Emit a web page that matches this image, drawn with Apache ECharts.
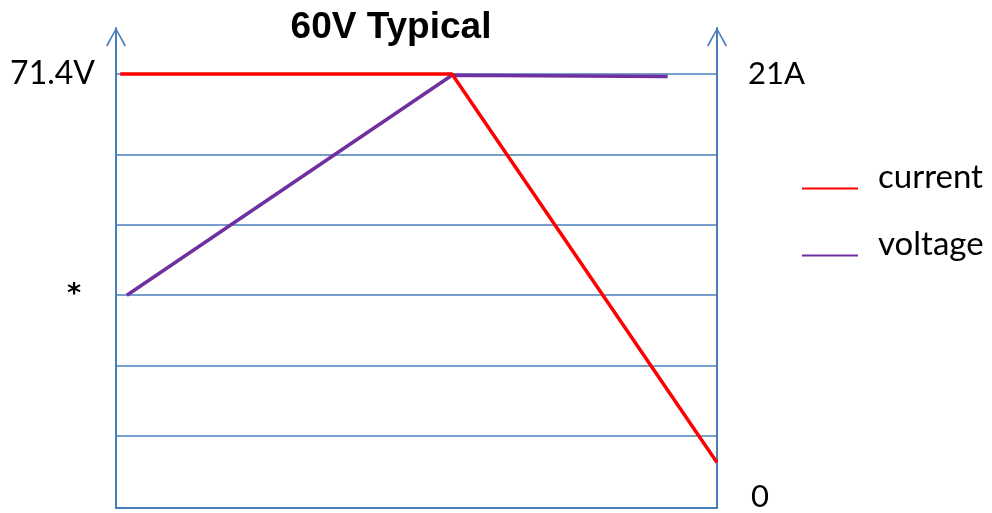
<!DOCTYPE html>
<html>
<head>
<meta charset="utf-8">
<script src="https://cdn.jsdelivr.net/npm/echarts@6/dist/echarts.min.js"></script>
<style>
  html, body { margin: 0; padding: 0; background: #fff; }
  #main { width: 992px; height: 513px; }
</style>
</head>
<body>
<div id="main"></div>
<script>
  // x in % of the time span, y in volts / amps
  const currentData = [[0.7, 21], [55.9, 21], [100, 2.2]];
  const voltageData = [[1.8, 35.0], [55.9, 71.2], [91.8, 71.0]];
  // horizontal grid levels (volts)
  const gridVolts = [11.85, 23.36, 35.04, 46.56, 58.08, 71.4];
  const voltLabels = [{ value: 35.04, text: '*' }, { value: 71.4, text: '71.4V' }];
  const ampLabels = [{ value: 0, text: '0' }, { value: 21, text: '21A' }];

  const blue = '#4a7ebb';
  const font = 'Lato, "Open Sans", sans-serif';
  // open chevron for the axis ends
  const arrow = 'path://M0,18 L10,0 L20,18 L18.5,18.8 L10,2.8 L1.5,18.8 Z';

  const myChart = echarts.init(document.getElementById('main'));
  const option = {
    backgroundColor: '#fff',
    animation: false,
    title: {
      text: '60V Typical',
      left: 386,
      top: 4,
      textAlign: 'center',
      textStyle: { fontFamily: '"Liberation Sans", Arial, sans-serif', fontWeight: 'bold', fontSize: 37, color: '#000' }
    },
    legend: {
      orient: 'vertical',
      left: 797,
      top: 156,
      itemWidth: 56,
      itemHeight: 24,
      itemGap: 34,
      data: [
        { name: 'current', icon: 'path://M0,0 M0,22 L56,22 L56,24 L0,24 Z' },
        { name: 'voltage', icon: 'path://M0,0 M0,22 L56,22 L56,24 L0,24 Z' }
      ],
      textStyle: { fontFamily: font, fontSize: 33, color: '#000', padding: [0, 0, 0, 15], lineHeight: 32 }
    },
    grid: { left: 116, right: 275, top: 28, bottom: 5 },
    xAxis: {
      type: 'value',
      min: 0,
      max: 100,
      axisLine: { show: true, lineStyle: { color: blue, width: 2 } },
      axisTick: { show: false },
      axisLabel: { show: false },
      splitLine: { show: false }
    },
    yAxis: [
      {
        type: 'value',
        position: 'left',
        min: 0,
        max: 78.97,
        axisLine: {
          show: true,
          symbol: ['none', arrow],
          symbolSize: [20, 19],
          symbolOffset: [0, -9],
          lineStyle: { color: blue, width: 2 }
        },
        axisTick: { show: false },
        splitLine: { show: false },
        axisLabel: {
          customValues: voltLabels.map(d => d.value),
          margin: 21,
          fontFamily: font,
          fontSize: 32,
          color: '#000',
          formatter: function (v) {
            const d = voltLabels.find(l => Math.abs(l.value - v) < 0.01);
            if (!d) return '';
            return d.text === '*' ? '{s|*}' : d.text;
          },
          rich: { s: { fontFamily: '"DejaVu Sans", sans-serif', fontWeight: 'bold', fontSize: 27, color: '#000', padding: [0, 14, 0, 0] } }
        }
      },
      {
        type: 'value',
        position: 'right',
        min: 0,
        max: 23.23,
        axisLine: {
          show: true,
          symbol: ['none', arrow],
          symbolSize: [20, 19],
          symbolOffset: [0, -9],
          lineStyle: { color: blue, width: 2 }
        },
        axisTick: { show: false },
        splitLine: { show: false },
        axisLabel: {
          customValues: ampLabels.map(d => d.value),
          margin: 31,
          fontFamily: font,
          fontSize: 31,
          color: '#000',
          formatter: function (v) {
            const d = ampLabels.find(l => Math.abs(l.value - v) < 0.01);
            if (!d) return '';
            return d.value === 0 ? '{z|0}' : d.text;
          },
          rich: { z: { fontFamily: font, fontSize: 31, color: '#000', padding: [0, 0, 22, 3] } }
        }
      }
    ],
    series: [
      {
        name: 'voltage',
        type: 'line',
        yAxisIndex: 0,
        data: voltageData,
        symbol: 'none',
        z: 3,
        color: '#7030a0',
        lineStyle: { color: '#7030a0', width: 3.5 },
        markLine: {
          silent: true,
          symbol: 'none',
          label: { show: false },
          lineStyle: { color: blue, width: 1.5, type: 'solid' },
          z: 1,
          data: gridVolts.map(v => ({ yAxis: v }))
        }
      },
      {
        name: 'current',
        type: 'line',
        yAxisIndex: 1,
        data: currentData,
        symbol: 'none',
        z: 4,
        color: '#ff0000',
        lineStyle: { color: '#ff0000', width: 3.5 }
      }
    ]
  };
  myChart.setOption(option);
</script>
</body>
</html>
